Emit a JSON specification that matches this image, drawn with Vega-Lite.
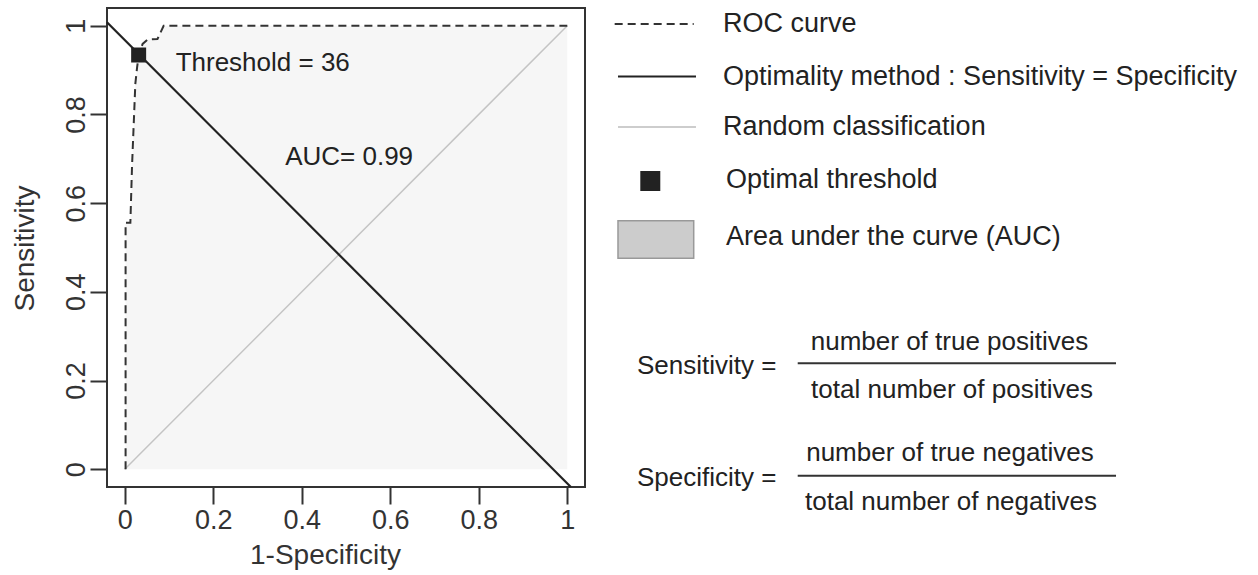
{
  "$schema": "https://vega.github.io/schema/vega-lite/v6.json",
  "padding": {"left": 10, "top": 7, "right": 5, "bottom": 5},
  "spacing": 16,
  "background": "white",
  "config": {
    "font": "Liberation Sans",
    "view": {"stroke": null},
    "text": {"font": "Liberation Sans", "fontSize": 26, "color": "#222"},
    "axis": {
      "domain": false, "grid": false, "ticks": true, "tickSize": 17, "tickWidth": 2, "tickColor": "#333",
      "labelFont": "Liberation Sans", "labelFontSize": 27, "labelColor": "#333",
      "titleFont": "Liberation Sans", "titleFontSize": 28, "titleFontWeight": "normal", "titleColor": "#333"
    }
  },
  "datasets": {
    "roc": [
      {"i": 0, "fpr": 0.002, "tpr": 0},
      {"i": 1, "fpr": 0.002, "tpr": 0.556},
      {"i": 2, "fpr": 0.0128, "tpr": 0.556},
      {"i": 3, "fpr": 0.0143, "tpr": 0.607},
      {"i": 4, "fpr": 0.0165, "tpr": 0.682},
      {"i": 5, "fpr": 0.0195, "tpr": 0.757},
      {"i": 6, "fpr": 0.0225, "tpr": 0.831},
      {"i": 7, "fpr": 0.024, "tpr": 0.869},
      {"i": 8, "fpr": 0.028, "tpr": 0.906},
      {"i": 9, "fpr": 0.0315, "tpr": 0.934},
      {"i": 10, "fpr": 0.0405, "tpr": 0.959},
      {"i": 11, "fpr": 0.052, "tpr": 0.969},
      {"i": 12, "fpr": 0.074, "tpr": 0.97},
      {"i": 13, "fpr": 0.088, "tpr": 1.0},
      {"i": 14, "fpr": 1.0, "tpr": 1.0}
    ],
    "diag": [{"fpr": 0, "tpr": 0}, {"fpr": 1, "tpr": 1}],
    "optline": [{"fpr": -0.04, "tpr": 1.008}, {"fpr": 1.008, "tpr": -0.04}],
    "optimal": [{"fpr": 0.0315, "tpr": 0.934, "threshold": 36}],
    "auc": [{"auc": 0.99}],
    "legend": [
      {"item": "ROC curve"},
      {"item": "Optimality method : Sensitivity = Specificity"},
      {"item": "Random classification"},
      {"item": "Optimal threshold"},
      {"item": "Area under the curve (AUC)"}
    ],
    "formulas": [
      {"metric": "Sensitivity", "numerator": "number of true positives", "denominator": "total number of positives"},
      {"metric": "Specificity", "numerator": "number of true negatives", "denominator": "total number of negatives"}
    ]
  },
  "hconcat": [
    {
      "width": 478,
      "height": 479,
      "view": {"stroke": "#333", "strokeWidth": 2},
      "layer": [
        {
          "data": {"name": "roc"},
          "mark": {"type": "area", "fill": "#f6f6f6", "fillOpacity": 1, "opacity": 1},
          "encoding": {
            "x": {"field": "fpr", "type": "quantitative", "scale": {"domain": [-0.04, 1.04], "nice": false, "zero": false},
              "axis": {"values": [0, 0.2, 0.4, 0.6, 0.8, 1], "format": "~g", "labelPadding": 3, "labelFlush": false, "labelOverlap": false,
                "title": "1-Specificity", "titleX": 218, "titleY": 76, "titleAlign": "center", "titleBaseline": "alphabetic"}},
            "y": {"field": "tpr", "type": "quantitative", "scale": {"domain": [-0.04, 1.04], "nice": false, "zero": false},
              "axis": {"values": [0, 0.2, 0.4, 0.6, 0.8, 1], "format": "~g", "labelAngle": -90, "labelAlign": "center", "labelBaseline": "alphabetic",
                "labelPadding": 6, "labelFlush": false, "labelOverlap": false,
                "title": "Sensitivity", "titleAngle": -90, "titleX": -74, "titleY": 240, "titleAlign": "center", "titleBaseline": "alphabetic"}},
            "y2": {"datum": 0}
          }
        },
        {
          "data": {"name": "diag"},
          "mark": {"type": "line", "color": "#c4c4c4", "strokeWidth": 1.5},
          "encoding": {
            "x": {"field": "fpr", "type": "quantitative"},
            "y": {"field": "tpr", "type": "quantitative"}
          }
        },
        {
          "data": {"name": "optline"},
          "mark": {"type": "line", "color": "#222", "strokeWidth": 2.2},
          "encoding": {
            "x": {"field": "fpr", "type": "quantitative"},
            "y": {"field": "tpr", "type": "quantitative"}
          }
        },
        {
          "data": {"name": "roc"},
          "mark": {"type": "line", "color": "#333", "strokeWidth": 2, "strokeDash": [8, 5]},
          "encoding": {
            "x": {"field": "fpr", "type": "quantitative"},
            "y": {"field": "tpr", "type": "quantitative"},
            "order": {"field": "i", "type": "quantitative"}
          }
        },
        {
          "data": {"name": "optimal"},
          "mark": {"type": "square", "size": 225, "filled": true, "color": "#222", "opacity": 1},
          "encoding": {
            "x": {"field": "fpr", "type": "quantitative"},
            "y": {"field": "tpr", "type": "quantitative"}
          }
        },
        {
          "data": {"name": "optimal"},
          "transform": [{"calculate": "'Threshold = ' + datum.threshold", "as": "label"}],
          "mark": {"type": "text", "align": "left", "baseline": "middle", "dx": 37, "dy": 8},
          "encoding": {
            "x": {"field": "fpr", "type": "quantitative"},
            "y": {"field": "tpr", "type": "quantitative"},
            "text": {"field": "label"}
          }
        },
        {
          "data": {"name": "auc"},
          "transform": [{"calculate": "'AUC= ' + datum.auc", "as": "label"}],
          "mark": {"type": "text", "align": "center", "baseline": "middle"},
          "encoding": {
            "x": {"datum": 0.507, "type": "quantitative"},
            "y": {"datum": 0.704, "type": "quantitative"},
            "text": {"field": "label"}
          }
        }
      ]
    },
    {
      "width": 650,
      "height": 520,
      "view": {"stroke": null},
      "layer": [
        {
          "data": {"name": "legend"},
          "transform": [{"filter": {"field": "item", "equal": "ROC curve"}}],
          "layer": [
            {
              "mark": {"type": "rule", "color": "#333", "strokeWidth": 2, "strokeDash": [8, 5]},
              "encoding": {
                "x": {"datum": 1.95, "type": "quantitative", "scale": {"domain": [0, 100], "nice": false, "zero": false}, "axis": null},
                "x2": {"datum": 14.11},
                "y": {"datum": 3.08, "type": "quantitative", "scale": {"domain": [0, 100], "nice": false, "zero": false, "reverse": true}, "axis": null}
              }
            },
            {
              "mark": {"type": "text", "align": "left", "baseline": "middle", "fontSize": 27},
              "encoding": {
                "x": {"datum": 18.62, "type": "quantitative", "axis": null},
                "y": {"datum": 3.08, "type": "quantitative", "axis": null},
                "text": {"field": "item"}
              }
            }
          ]
        },
        {
          "data": {"name": "legend"},
          "transform": [{"filter": {"field": "item", "equal": "Optimality method : Sensitivity = Specificity"}}],
          "layer": [
            {
              "mark": {"type": "rule", "color": "#222", "strokeWidth": 2.2},
              "encoding": {
                "x": {"datum": 2.46, "type": "quantitative", "axis": null},
                "x2": {"datum": 14.46},
                "y": {"datum": 13.17, "type": "quantitative", "axis": null}
              }
            },
            {
              "mark": {"type": "text", "align": "left", "baseline": "middle", "fontSize": 27},
              "encoding": {
                "x": {"datum": 18.62, "type": "quantitative", "axis": null},
                "y": {"datum": 13.27, "type": "quantitative", "axis": null},
                "text": {"field": "item"}
              }
            }
          ]
        },
        {
          "data": {"name": "legend"},
          "transform": [{"filter": {"field": "item", "equal": "Random classification"}}],
          "layer": [
            {
              "mark": {"type": "rule", "color": "#bdbdbd", "strokeWidth": 1.5},
              "encoding": {
                "x": {"datum": 2.46, "type": "quantitative", "axis": null},
                "x2": {"datum": 14.46},
                "y": {"datum": 22.88, "type": "quantitative", "axis": null}
              }
            },
            {
              "mark": {"type": "text", "align": "left", "baseline": "middle", "fontSize": 27},
              "encoding": {
                "x": {"datum": 18.62, "type": "quantitative", "axis": null},
                "y": {"datum": 22.83, "type": "quantitative", "axis": null},
                "text": {"field": "item"}
              }
            }
          ]
        },
        {
          "data": {"name": "legend"},
          "transform": [{"filter": {"field": "item", "equal": "Optimal threshold"}}],
          "layer": [
            {
              "mark": {"type": "square", "size": 400, "filled": true, "color": "#222", "opacity": 1},
              "encoding": {
                "x": {"datum": 7.43, "type": "quantitative", "axis": null},
                "y": {"datum": 33.27, "type": "quantitative", "axis": null}
              }
            },
            {
              "mark": {"type": "text", "align": "left", "baseline": "middle", "fontSize": 27},
              "encoding": {
                "x": {"datum": 19.08, "type": "quantitative", "axis": null},
                "y": {"datum": 33.08, "type": "quantitative", "axis": null},
                "text": {"field": "item"}
              }
            }
          ]
        },
        {
          "data": {"name": "legend"},
          "transform": [{"filter": {"field": "item", "equal": "Area under the curve (AUC)"}}],
          "layer": [
            {
              "mark": {"type": "rect", "color": "#cccccc", "stroke": "#999999", "strokeWidth": 1.5},
              "encoding": {
                "x": {"datum": 2.46, "type": "quantitative", "axis": null},
                "x2": {"datum": 14.11},
                "y": {"datum": 40.9, "type": "quantitative", "axis": null},
                "y2": {"datum": 48.13}
              }
            },
            {
              "mark": {"type": "text", "align": "left", "baseline": "middle", "fontSize": 27},
              "encoding": {
                "x": {"datum": 19.08, "type": "quantitative", "axis": null},
                "y": {"datum": 43.98, "type": "quantitative", "axis": null},
                "text": {"field": "item"}
              }
            }
          ]
        },
        {
          "data": {"name": "formulas"},
          "transform": [{"filter": {"field": "metric", "equal": "Sensitivity"}}, {"calculate": "datum.metric + ' ='", "as": "lhs"}],
          "layer": [
            {
              "mark": {"type": "text", "align": "left", "baseline": "middle"},
              "encoding": {
                "x": {"datum": 5.38, "type": "quantitative", "axis": null},
                "y": {"datum": 68.85, "type": "quantitative", "axis": null},
                "text": {"field": "lhs"}
              }
            },
            {
              "mark": {"type": "text", "align": "center", "baseline": "middle"},
              "encoding": {
                "x": {"datum": 53.46, "type": "quantitative", "axis": null},
                "y": {"datum": 64.17, "type": "quantitative", "axis": null},
                "text": {"field": "numerator"}
              }
            },
            {
              "mark": {"type": "rule", "color": "#333", "strokeWidth": 2},
              "encoding": {
                "x": {"datum": 30.11, "type": "quantitative", "axis": null},
                "x2": {"datum": 79.08},
                "y": {"datum": 68.33, "type": "quantitative", "axis": null}
              }
            },
            {
              "mark": {"type": "text", "align": "center", "baseline": "middle"},
              "encoding": {
                "x": {"datum": 53.85, "type": "quantitative", "axis": null},
                "y": {"datum": 73.46, "type": "quantitative", "axis": null},
                "text": {"field": "denominator"}
              }
            }
          ]
        },
        {
          "data": {"name": "formulas"},
          "transform": [{"filter": {"field": "metric", "equal": "Specificity"}}, {"calculate": "datum.metric + ' ='", "as": "lhs"}],
          "layer": [
            {
              "mark": {"type": "text", "align": "left", "baseline": "middle"},
              "encoding": {
                "x": {"datum": 5.38, "type": "quantitative", "axis": null},
                "y": {"datum": 90.38, "type": "quantitative", "axis": null},
                "text": {"field": "lhs"}
              }
            },
            {
              "mark": {"type": "text", "align": "center", "baseline": "middle"},
              "encoding": {
                "x": {"datum": 53.54, "type": "quantitative", "axis": null},
                "y": {"datum": 85.58, "type": "quantitative", "axis": null},
                "text": {"field": "numerator"}
              }
            },
            {
              "mark": {"type": "rule", "color": "#333", "strokeWidth": 2},
              "encoding": {
                "x": {"datum": 30.11, "type": "quantitative", "axis": null},
                "x2": {"datum": 79.08},
                "y": {"datum": 89.94, "type": "quantitative", "axis": null}
              }
            },
            {
              "mark": {"type": "text", "align": "center", "baseline": "middle"},
              "encoding": {
                "x": {"datum": 53.69, "type": "quantitative", "axis": null},
                "y": {"datum": 94.94, "type": "quantitative", "axis": null},
                "text": {"field": "denominator"}
              }
            }
          ]
        }
      ]
    }
  ]
}
